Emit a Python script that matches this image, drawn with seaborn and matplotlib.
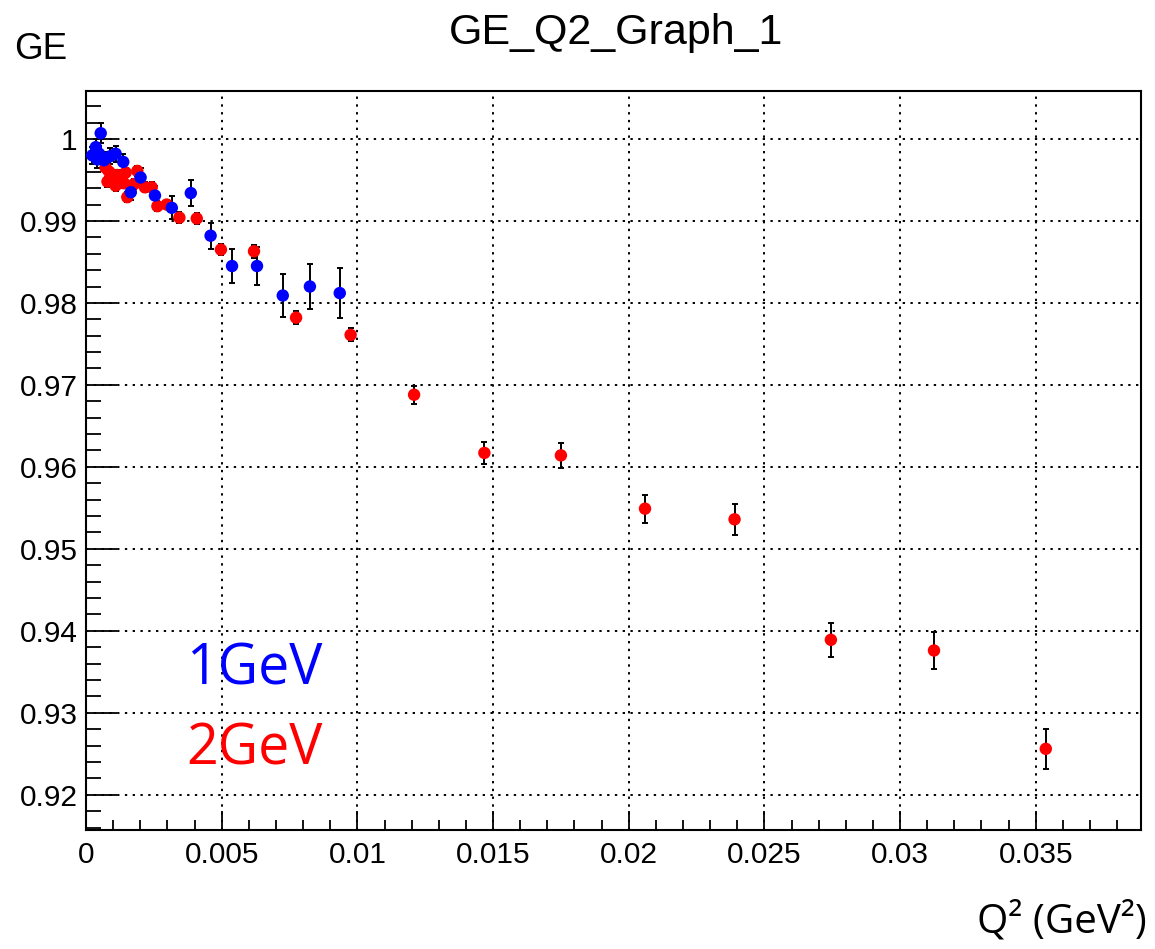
import numpy as np
import pandas as pd
import matplotlib
matplotlib.use("Agg")
import matplotlib.pyplot as plt
import seaborn as sns

# 1 GeV beam points (Q2 in GeV^2, GE, error)
q2_1gev = [0.00023, 0.00036, 0.00042, 0.00048, 0.00054, 0.00066, 0.00090, 0.00109,
           0.00137, 0.00165, 0.00201, 0.00254, 0.00316, 0.00386, 0.00459, 0.00538,
           0.00630, 0.00725, 0.00825, 0.00935]
ge_1gev = [0.9980, 0.9990, 0.9975, 0.9982, 1.0007, 0.9974, 0.9979, 0.9982,
           0.9972, 0.9935, 0.9953, 0.9931, 0.9916, 0.9934, 0.9882, 0.9845,
           0.9845, 0.9809, 0.9820, 0.9812]
err_1gev = [0.0010, 0.0010, 0.0010, 0.0010, 0.0012, 0.0010, 0.0010, 0.0010,
            0.0010, 0.0010, 0.0012, 0.0012, 0.0014, 0.0016, 0.0016, 0.0021,
            0.0023, 0.0026, 0.0028, 0.0031]

# 2 GeV beam points
q2_2gev = [0.00072, 0.00079, 0.00085, 0.00097, 0.00109, 0.00115, 0.00140, 0.00146,
           0.00152, 0.00177, 0.00189, 0.00217, 0.00242, 0.00263, 0.00297, 0.00344,
           0.00408, 0.00497, 0.00619, 0.00774, 0.00975, 0.01209, 0.01468, 0.01750,
           0.02060, 0.02390, 0.02745, 0.03125, 0.03537]
ge_2gev = [0.9965, 0.9948, 0.9960, 0.9948, 0.9943, 0.9956, 0.9946, 0.9959,
           0.9929, 0.9945, 0.9961, 0.9941, 0.9941, 0.9918, 0.9920, 0.9904,
           0.9903, 0.9865, 0.9863, 0.9782, 0.9761, 0.9688, 0.9617, 0.9614,
           0.9549, 0.9536, 0.9389, 0.9376, 0.9256]
err_2gev = [0.0006, 0.0006, 0.0006, 0.0006, 0.0006, 0.0006, 0.0006, 0.0006,
            0.0006, 0.0006, 0.0006, 0.0006, 0.0006, 0.0006, 0.0006, 0.0007,
            0.0007, 0.0007, 0.0008, 0.0008, 0.0008, 0.0011, 0.0013, 0.0015,
            0.0017, 0.0019, 0.0021, 0.0023, 0.0024]

x_ticks = [0, 0.005, 0.01, 0.015, 0.02, 0.025, 0.03, 0.035]
x_tick_labels = ["0", "0.005", "0.01", "0.015", "0.02", "0.025", "0.03", "0.035"]
y_ticks = [0.92, 0.93, 0.94, 0.95, 0.96, 0.97, 0.98, 0.99, 1.0]
y_tick_labels = ["0.92", "0.93", "0.94", "0.95", "0.96", "0.97", "0.98", "0.99", "1"]

df = pd.concat([
    pd.DataFrame({"Q2": q2_2gev, "GE": ge_2gev, "err": err_2gev, "beam": "2GeV"}),
    pd.DataFrame({"Q2": q2_1gev, "GE": ge_1gev, "err": err_1gev, "beam": "1GeV"}),
], ignore_index=True)

sns.set_theme(style="white")
plt.rcParams["font.family"] = ["Liberation Sans", "DejaVu Sans"]
plt.rcParams["text.color"] = "black"
plt.rcParams["xtick.color"] = "black"
plt.rcParams["ytick.color"] = "black"

fig = plt.figure(figsize=(11.55, 9.49), dpi=100)
ax = fig.add_axes([0.0745, 0.1254, 0.9134, 0.7787])

colors = {"1GeV": "#0000ff", "2GeV": "#ff0000"}

# error bars first, then markers on top
for beam in ["2GeV", "1GeV"]:
    sub = df[df["beam"] == beam]
    ax.errorbar(sub["Q2"], sub["GE"], yerr=sub["err"], fmt="none",
                ecolor="black", elinewidth=1.4, capsize=2.5, capthick=1.4, zorder=3)

sns.scatterplot(data=df, x="Q2", y="GE", hue="beam", palette=colors,
                s=80, edgecolor="none", legend=False, ax=ax, zorder=4)

ax.set_xlim(0, 0.03888)
ax.set_ylim(0.9157, 1.00585)
ax.set_xticks(x_ticks)
ax.set_xticklabels(x_tick_labels)
ax.set_yticks(y_ticks)
ax.set_yticklabels(y_tick_labels)
ax.set_xticks(np.arange(0, 0.0389, 0.001), minor=True)
ax.set_yticks(np.arange(0.916, 1.006, 0.002), minor=True)

ax.tick_params(axis="both", which="both", direction="in", colors="black",
               labelcolor="black", labelsize=21.5, width=1.3)
ax.tick_params(axis="x", which="major", length=14, pad=8)
ax.tick_params(axis="x", which="minor", length=7)
ax.tick_params(axis="y", which="major", length=22, pad=6)
ax.tick_params(axis="y", which="minor", length=11)
ax.tick_params(top=False, right=False, which="both")
ax.xaxis.set_ticks_position("bottom")
ax.yaxis.set_ticks_position("left")

ax.grid(True, which="major", color="black", linestyle=(0, (1.2, 2.8)), linewidth=1.4)
for side in ["left", "bottom", "top", "right"]:
    ax.spines[side].set_color("black")
    ax.spines[side].set_linewidth(1.5)

ax.set_xlabel("")
ax.set_ylabel("")

fig.text(0.533, 0.965, "GE_Q2_Graph_1", ha="center", va="center", fontsize=31,
         color="black")
fig.text(0.012, 0.948, "GE", ha="left", va="center", fontsize=26.5, color="black")
fig.text(0.993, 0.028, "Q\u00b2 (GeV\u00b2)", ha="right", va="center", fontsize=29,
         color="black", family=["Open Sans", "DejaVu Sans"])

ax.text(0.0037, 0.9352, "1GeV", color="#0000ff", fontsize=40, ha="left", va="center",
        family=["Open Sans", "DejaVu Sans"])
ax.text(0.0037, 0.9254, "2GeV", color="#ff0000", fontsize=40, ha="left", va="center",
        family=["Open Sans", "DejaVu Sans"])

fig.savefig("out.png", dpi=100)
